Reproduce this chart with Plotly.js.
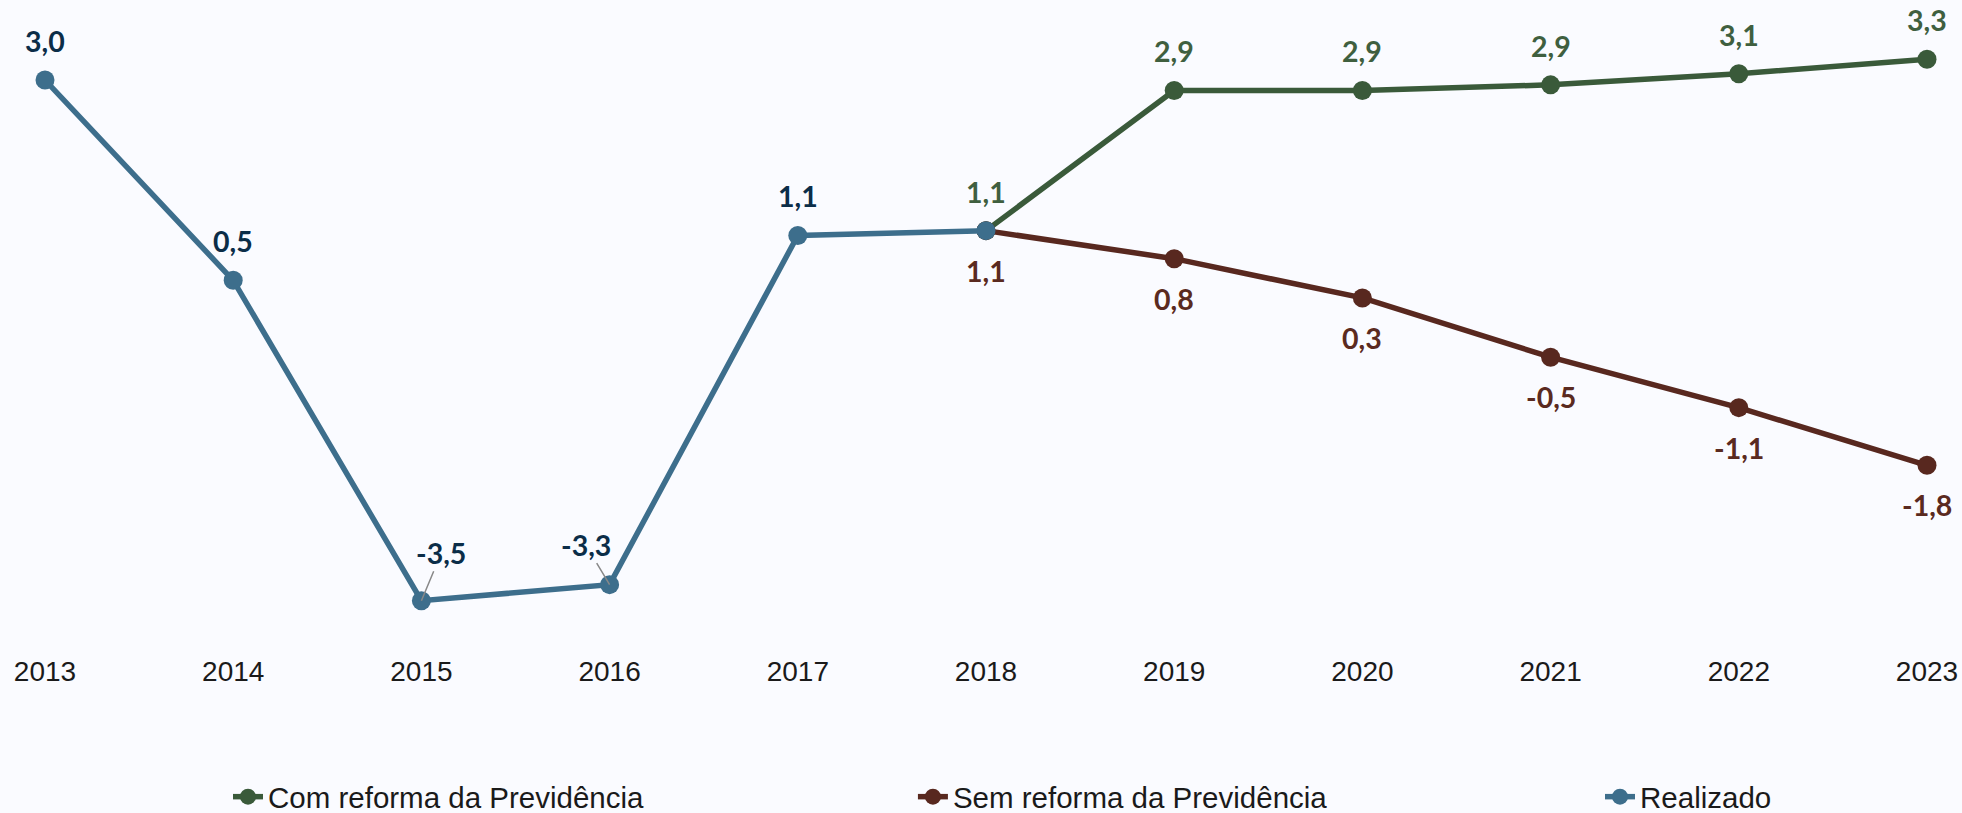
<!DOCTYPE html>
<html>
<head>
<meta charset="utf-8">
<script src="https://cdn.plot.ly/plotly-3.0.1.min.js"></script>
<style>
  html, body { margin: 0; padding: 0; background: #fafbff; }
  #chart { width: 1962px; height: 813px; }
</style>
</head>
<body>
<div id="chart"></div>
<script>
// ---- data ----
const yearsRealizado = [2013, 2014, 2015, 2016, 2017, 2018];
const valuesRealizado = [3.0, 0.5, -3.5, -3.3, 1.06, 1.12];

const yearsProjecao = [2018, 2019, 2020, 2021, 2022, 2023];
const valuesComReforma = [1.12, 2.87, 2.87, 2.94, 3.08, 3.26];
const valuesSemReforma = [1.12, 0.77, 0.28, -0.46, -1.09, -1.81];

const tickYears = [2013, 2014, 2015, 2016, 2017, 2018, 2019, 2020, 2021, 2022, 2023];

const seriesNames = ["Com reforma da Previdência", "Sem reforma da Previdência", "Realizado"];

// ---- styles ----
const colBlue = "#3d6e8c", colGreen = "#3a5a3a", colBrown = "#58281f";
const labBlue = "#0b2d48", labGreen = "#3f5f3f", labBrown = "#5a2a20";
const labelFont = { family: "Lato, 'Open Sans', sans-serif", size: 28.5, weight: 700 };
const textFont = { family: "'Liberation Sans', Arial, sans-serif", size: 28, color: "#1a1a1a" };
const legendFont = { family: "'Liberation Sans', Arial, sans-serif", size: 29.5, color: "#1a1a1a" };

function fmt(v) { return v.toFixed(1).replace(".", ","); }

const traces = [
  { x: yearsProjecao, y: valuesComReforma, name: seriesNames[0], mode: "lines+markers", legend: "legend",
    line: { color: colGreen, width: 5.5 }, marker: { color: colGreen, size: 19 }, cliponaxis: false },
  { x: yearsProjecao, y: valuesSemReforma, name: seriesNames[1], mode: "lines+markers", legend: "legend2",
    line: { color: colBrown, width: 5.5 }, marker: { color: colBrown, size: 19 }, cliponaxis: false },
  { x: yearsRealizado, y: valuesRealizado, name: seriesNames[2], mode: "lines+markers", legend: "legend3",
    line: { color: colBlue, width: 5.5 }, marker: { color: colBlue, size: 19 }, cliponaxis: false }
];

const annotations = [];
// leader-line offsets (pixels) for some Realizado labels
const leader = { 2015: { ax: 20, ay: -48 }, 2016: { ax: -24, ay: -40 } };

yearsRealizado.forEach((yr, i) => {
  if (yr === 2018) return; // label shown by projection series
  const base = { x: yr, y: valuesRealizado[i], text: fmt(valuesRealizado[i]),
    font: Object.assign({ color: labBlue }, labelFont), xref: "x", yref: "y" };
  if (leader[yr]) {
    annotations.push(Object.assign(base, { showarrow: true, arrowhead: 0, arrowwidth: 1.5,
      arrowcolor: "#888888", ax: leader[yr].ax, ay: leader[yr].ay, standoff: 0 }));
  } else {
    annotations.push(Object.assign(base, { showarrow: false, xanchor: "center", yanchor: "middle", yshift: 39 }));
  }
});
yearsProjecao.forEach((yr, i) => {
  annotations.push({ x: yr, y: valuesComReforma[i], text: fmt(valuesComReforma[i]), showarrow: false,
    xanchor: "center", yanchor: "middle", yshift: 39, font: Object.assign({ color: labGreen }, labelFont) });
  annotations.push({ x: yr, y: valuesSemReforma[i], text: fmt(valuesSemReforma[i]), showarrow: false,
    xanchor: "center", yanchor: "middle", yshift: -40, font: Object.assign({ color: labBrown }, labelFont) });
});

function legendAt(xp) {
  return { orientation: "h", xref: "container", yref: "container", x: xp, xanchor: "left",
    y: 0.0197, yanchor: "middle", font: legendFont, bgcolor: "rgba(0,0,0,0)" };
}

const layout = {
  width: 1962, height: 813,
  paper_bgcolor: "#fafbff", plot_bgcolor: "#fafbff",
  margin: { l: 45, r: 35, t: 24, b: 165 },
  showlegend: true,
  legend: legendAt(0.1162),
  legend2: legendAt(0.4653),
  legend3: legendAt(0.8155),
  xaxis: {
    range: [2013, 2023], tickvals: tickYears, ticktext: tickYears.map(String),
    showgrid: false, zeroline: false, showline: false, ticks: "",
    ticklabelstandoff: 4,
    tickfont: textFont
  },
  yaxis: {
    range: [-4.091, 3.7], visible: false, showgrid: false, zeroline: false
  },
  annotations: annotations
};

Plotly.newPlot("chart", traces, layout, { displayModeBar: false, staticPlot: true });
</script>
</body>
</html>
